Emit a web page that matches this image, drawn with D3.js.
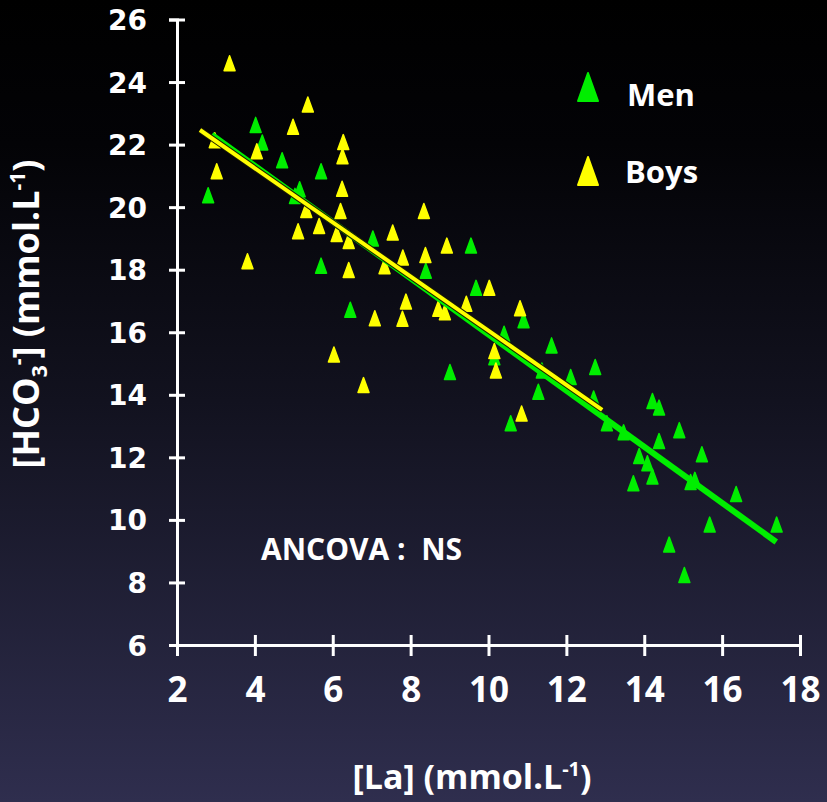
<!DOCTYPE html>
<html>
<head>
<meta charset="utf-8">
<script src="https://cdn.jsdelivr.net/npm/d3@7"></script>
<style>
  html, body { margin: 0; padding: 0; background: #000; }
  svg { display: block; }
  .ev-tick-y text { font-family: "DejaVu Sans", sans-serif; font-weight: bold; font-size: 28px; fill: #fff; }
  .ev-tick-x text { font-family: "Open Sans", sans-serif; font-weight: bold; font-size: 35px; fill: #fff; }
  .ev-label { font-family: "Open Sans", sans-serif; font-weight: bold; fill: #fff; }
</style>
</head>
<body>
<svg id="chart" width="827" height="802"></svg>
<script>
"use strict";

// [La] (x) and [HCO3-] (y)
const menLa = [4.02, 4.19, 4.70, 5.70, 2.80, 5.15, 5.03, 7.03, 5.70, 6.45,
               9.55, 8.39, 9.68, 10.90, 10.40, 10.15, 11.62, 9.01, 12.11, 12.74,
               11.28, 11.37, 10.57, 12.70, 13.04, 13.47, 14.21, 14.38, 14.90, 14.38,
               15.48, 13.87, 14.08, 14.21, 13.72, 15.19, 15.30, 16.36, 17.40, 15.68,
               14.64, 15.03];
const menHco3 = [22.63, 22.07, 21.50, 21.15, 20.38, 20.57, 20.36, 19.00, 18.13, 16.72,
                 18.77, 17.97, 17.42, 16.38, 15.95, 15.20, 15.58, 14.73, 14.57, 14.89,
                 14.10, 14.78, 13.09, 13.88, 13.09, 12.80, 13.80, 13.59, 12.87, 12.52,
                 12.10, 12.04, 11.81, 11.39, 11.17, 11.21, 11.28, 10.83, 9.85, 9.85,
                 9.21, 8.24];

const boysLa = [3.35, 5.36, 4.98, 2.97, 6.27, 4.05, 6.25, 3.02, 6.24, 5.32,
                6.20, 5.65, 5.11, 6.10, 6.41, 7.33, 3.81, 6.41, 7.08, 6.03,
                6.79, 8.34, 7.54, 8.93, 7.80, 8.38, 10.02, 7.88, 7.79, 8.71,
                8.88, 9.43, 10.81, 10.15, 10.19, 10.85];
const boysHco3 = [24.60, 23.28, 22.57, 22.14, 22.08, 21.79, 21.63, 21.15, 20.59, 19.91,
                  19.88, 19.40, 19.23, 19.14, 18.92, 18.11, 18.27, 17.99, 16.45, 15.29,
                  14.31, 19.88, 19.19, 18.77, 18.39, 18.47, 17.42, 16.98, 16.43, 16.75,
                  16.64, 16.91, 16.77, 15.40, 14.78, 13.40];

// regression lines: [start La, end La], slope, intercept
const menFitRange = [2.89, 17.39];
const menFit = [-0.898, 24.91];
const boysFitRange = [2.59, 12.92];
const boysFit = [-0.866, 24.71];

const xTicks = [2, 4, 6, 8, 10, 12, 14, 16, 18];
const yTicks = [6, 8, 10, 12, 14, 16, 18, 20, 22, 24, 26];

const groups = ["Men", "Boys"];
const groupColors = ["#00ee00", "#ffff00"];

const svg = d3.select("#chart");

// Background
const defs = svg.append("defs");
const grad = defs.append("linearGradient")
  .attr("id", "ev-bg")
  .attr("x1", 0).attr("y1", 0).attr("x2", 0).attr("y2", 1);
grad.append("stop").attr("offset", "0").attr("stop-color", "#000000");
grad.append("stop").attr("offset", "0.18").attr("stop-color", "#030306");
grad.append("stop").attr("offset", "0.5").attr("stop-color", "#12121f");
grad.append("stop").attr("offset", "1").attr("stop-color", "#2f2e4e");

svg.append("rect")
  .attr("width", 827).attr("height", 802)
  .attr("fill", "url(#ev-bg)");

// Scales
const xScale = d3.scaleLinear().domain([2, 18]).range([177, 800]);
const yScale = d3.scaleLinear().domain([6, 26]).range([645, 19.5]);

// Axes
const xAxis = svg.append("g")
  .attr("class", "ev-tick-x")
  .attr("transform", `translate(0,${yScale(6)})`)
  .call(d3.axisBottom(xScale).tickValues(xTicks).tickSizeOuter(0).tickSize(10));

const yAxis = svg.append("g")
  .attr("class", "ev-tick-y")
  .attr("transform", `translate(${xScale(2)},0)`)
  .call(d3.axisLeft(yScale).tickValues(yTicks).tickSizeOuter(0).tickSize(8));

[xAxis, yAxis].forEach(axis => {
  axis.select(".domain").attr("stroke", "#fff").attr("stroke-width", 3);
  axis.selectAll(".tick line").attr("stroke", "#fff").attr("stroke-width", 3);
});

xAxis.selectAll(".tick line").attr("y1", -10).attr("y2", 11);
xAxis.selectAll(".tick text")
  .attr("y", 57).attr("dy", 0)
  .attr("fill", "#fff");

yAxis.selectAll(".tick line").attr("x1", -8).attr("x2", 8);
yAxis.selectAll(".tick text")
  .attr("x", -30).attr("dy", "0.36em")
  .attr("fill", "#fff");

// Axis titles
const xTitle = svg.append("text")
  .attr("class", "ev-label")
  .attr("x", 472).attr("y", 789)
  .attr("text-anchor", "middle")
  .style("font-size", "34px");
xTitle.append("tspan").text("[La] (mmol.L");
xTitle.append("tspan").attr("dy", -13).style("font-size", "20px").text("-1");
xTitle.append("tspan").attr("dy", 13).text(")");

const yTitle = svg.append("text")
  .attr("class", "ev-label")
  .attr("transform", "translate(39,314) rotate(-90)")
  .attr("text-anchor", "middle")
  .style("font-size", "36px");
yTitle.append("tspan").text("[HCO");
yTitle.append("tspan").attr("dy", 8).style("font-size", "21px").text("3");
yTitle.append("tspan").attr("dy", -22).style("font-size", "21px").text("-");
yTitle.append("tspan").attr("dy", 14).text("] (mmol.L");
yTitle.append("tspan").attr("dy", -14).style("font-size", "21px").text("-1");
yTitle.append("tspan").attr("dy", 14).text(")");

// Triangle marker, centred on its box
function trianglePath(w, h) {
  return `M0,${-h / 2}L${w / 2},${h / 2}L${-w / 2},${h / 2}Z`;
}

function renderGroup(la, hco3, color) {
  const points = la.map((v, i) => [v, hco3[i]]);
  svg.append("g")
    .selectAll("path")
    .data(points)
    .enter()
    .append("path")
    .attr("d", trianglePath(11, 15))
    .attr("transform", p => `translate(${xScale(p[0])},${yScale(p[1])})`)
    .attr("fill", color)
    .attr("stroke", color)
    .attr("stroke-width", 1.5)
    .attr("stroke-linejoin", "round");
}

renderGroup(menLa, menHco3, groupColors[0]);
renderGroup(boysLa, boysHco3, groupColors[1]);

// Regression lines
function fitLine(range, fit) {
  return d3.line()
    .x(v => xScale(v))
    .y(v => yScale(fit[0] * v + fit[1]))(range);
}

svg.append("path")
  .attr("d", fitLine(menFitRange, menFit))
  .attr("stroke", groupColors[0])
  .attr("stroke-width", 6)
  .attr("fill", "none");

svg.append("path")
  .attr("d", fitLine(boysFitRange, boysFit))
  .attr("stroke", "#1a1a00")
  .attr("stroke-width", 6)
  .attr("fill", "none");

svg.append("path")
  .attr("d", fitLine(boysFitRange, boysFit))
  .attr("stroke", groupColors[1])
  .attr("stroke-width", 4)
  .attr("fill", "none");

// Legend
const legendY = [87, 171];
const legendTextY = [106, 183];
groups.forEach((name, i) => {
  svg.append("path")
    .attr("d", trianglePath(20, 28))
    .attr("transform", `translate(588,${legendY[i]})`)
    .attr("fill", groupColors[i])
    .attr("stroke", groupColors[i])
    .attr("stroke-width", 2)
    .attr("stroke-linejoin", "round");

  svg.append("text")
    .attr("class", "ev-label")
    .attr("x", i == 0 ? 627 : 625)
    .attr("y", legendTextY[i])
    .style("font-size", "31px")
    .text(name);
});

// Annotation
svg.append("text")
  .attr("class", "ev-label")
  .attr("x", 261).attr("y", 560)
  .style("font-size", "30px")
  .attr("xml:space", "preserve")
  .text("ANCOVA :  NS");
</script>
</body>
</html>
